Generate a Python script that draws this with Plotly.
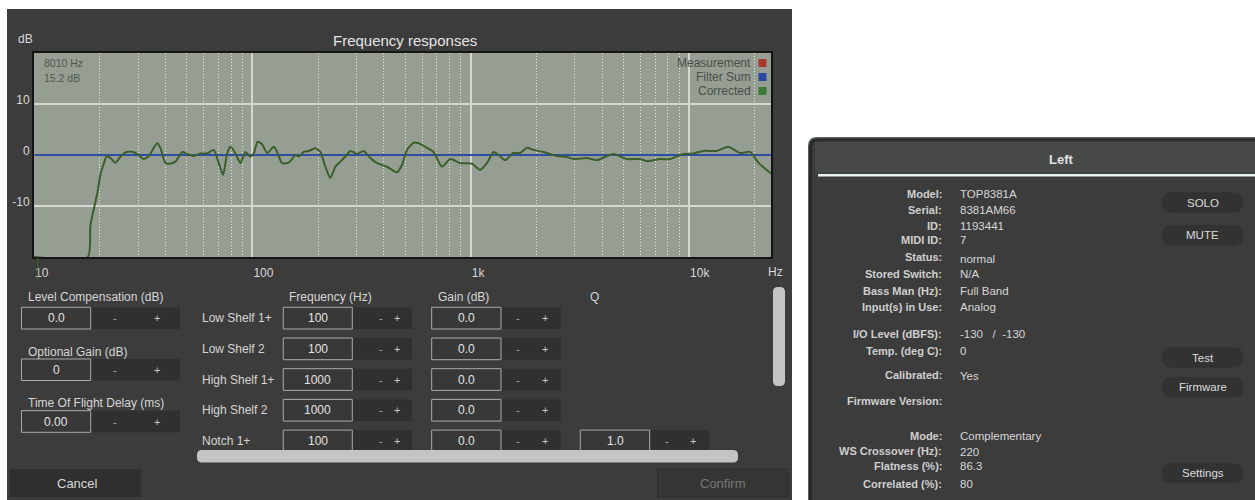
import plotly.graph_objects as go

# ---------------- data ----------------
freq_hz = [10, 17.6, 18.1, 18.9, 19.5, 20.2, 20.9, 21.5, 22.4, 23.6, 24.9, 26.5, 28.5, 30.1, 31.7, 33.4,
           36.6, 37.9, 40.0, 42.9, 44.4, 47.7, 50.2, 53.9, 57.8, 62.0, 66.5, 70.1, 73.4, 76.6, 79.3, 83.6,
           88.1, 92.9, 97.9, 101.4, 105.7, 110.8, 116.8, 125.2, 129.7, 136.8, 146.6, 152.0, 157.4, 162.9,
           171.7, 181.0, 194.2, 204.7, 215.8, 227.5, 239.9, 252.8, 266.5, 280.9, 301.5, 323.2, 346.7, 372.1,
           413.4, 459.5, 484.4, 510.5, 547.2, 576.9, 619.1, 675.5, 738.3, 805.9, 895.4, 1013, 1105, 1186,
           1272, 1365, 1439, 1570, 1685, 1808, 1939, 2154, 2481, 2757, 2954, 3402, 3781, 4504, 5187, 5968,
           6404, 7369, 8185, 9418, 10465, 11628, 13394, 15134, 17115, 19021, 20764, 23066, 23730]
corrected_db = [-20, -20, -13.9, -10.0, -7.4, -3.5, -1.6, -0.2, -0.6, -1.5, -0.3, 0.6, 0.6, 0.0, -0.8, -0.3,
                2.3, 1.4, -1.6, -1.6, -1.3, 0.6, 0.2, -0.2, 0.3, 0.3, 1.0, -1.6, -3.9, 0.3, 1.6, 0.3,
                -1.6, 0.6, -0.3, 0.3, 2.6, 2.1, 0.4, 1.6, 0.6, -1.6, -1.5, -0.8, 0.0, -0.3,
                0.6, 0.8, 1.3, 0.6, -2.3, -4.5, -2.3, -1.3, -0.3, 0.8, 0.2, 0.8, -0.6, -1.6,
                -2.3, -3.4, -1.9, 1.0, 2.4, 2.3, 1.6, 0.6, -2.3, -0.8, -1.6, -1.7, -2.9, -1.6,
                0.6, -0.3, -1.0, 0.4, 0.4, 1.4, 1.0, 0.6, -0.2, -0.4, -0.8, -0.6, -1.0, 0.2, -0.8, -0.8,
                -1.2, -0.8, -0.8, 0.2, 0.3, 0.8, 0.8, 1.6, 0.4, 0.6, -1.5, -3.2, -3.6]
filter_sum_hz = [10, 23730]
filter_sum_db = [0, 0]

x_tick_vals = [10, 100, 1000, 10000]
x_tick_text = ["10", "100", "1k", "10k"]
y_tick_vals = [-10, 0, 10]
y_tick_text = ["-10", "0", "10"]

legend_names = ["Measurement", "Filter Sum", "Corrected"]
legend_colors = ["#a8392c", "#2a4a9e", "#3a7c37"]
cursor_text = ["8010 Hz", "15.2 dB"]

left_fields = [("Level Compensation (dB)", "0.0"), ("Optional Gain (dB)", "0"),
               ("Time Of Flight Delay (ms)", "0.00")]
filter_rows = ["Low Shelf 1+", "Low Shelf 2", "High Shelf 1+", "High Shelf 2", "Notch 1+"]
filter_freq = ["100", "100", "1000", "1000", "100"]
filter_gain = ["0.0", "0.0", "0.0", "0.0", "0.0"]
filter_q = [None, None, None, None, "1.0"]

info_labels = ["Model:", "Serial:", "ID:", "MIDI ID:", "Status:", "Stored Switch:", "Bass Man (Hz):",
               "Input(s) in Use:", "I/O Level (dBFS):", "Temp. (deg C):", "Calibrated:", "Firmware Version:",
               "Mode:", "WS Crossover (Hz):", "Flatness (%):", "Correlated (%):"]
info_values = ["TOP8381A", "8381AM66", "1193441", "7", "normal", "N/A", "Full Band", "Analog",
               "-130   /  -130", "0", "Yes", "", "Complementary", "220", "86.3", "80"]
info_y = [194, 209.5, 226, 239.5, 257, 274, 290.5, 306.5, 334, 350.5, 374.5, 400.5, 435.5, 450.5, 466, 483.5]
side_buttons = ["SOLO", "MUTE", "Test", "Firmware", "Settings"]
side_button_y = [(192.3, 212.7), (225, 245.7), (347.3, 367.7), (377.3, 397.3), (463.3, 483.3)]

# ---------------- helpers ----------------
W, H = 1255, 500
FONT = "Liberation Sans, Arial, Helvetica, sans-serif"
shapes = []
annots = []


def px(x):
    return x / W


def py(y):
    return 1 - y / H


def rect(x0, y0, x1, y1, fill, line=None, lw=0, layer="below"):
    shapes.append(dict(type="rect", xref="paper", yref="paper", x0=px(x0), x1=px(x1), y0=py(y1), y1=py(y0),
                       fillcolor=fill, line=dict(color=line or fill, width=lw), layer=layer))


def rrect(x0, y0, x1, y1, r, fill, layer="below", corners=(1, 1, 1, 1)):
    tl, tr, br, bl = [r if c else 0 for c in corners]
    P = lambda x, y: f"{px(x):.6f},{py(y):.6f}"
    d = (f"M {P(x0 + tl, y0)} L {P(x1 - tr, y0)} Q {P(x1, y0)} {P(x1, y0 + tr)} "
         f"L {P(x1, y1 - br)} Q {P(x1, y1)} {P(x1 - br, y1)} L {P(x0 + bl, y1)} "
         f"Q {P(x0, y1)} {P(x0, y1 - bl)} L {P(x0, y0 + tl)} Q {P(x0, y0)} {P(x0 + tl, y0)} Z")
    shapes.append(dict(type="path", xref="paper", yref="paper", path=d, fillcolor=fill,
                       line=dict(width=0, color=fill), layer=layer))


def text(x, y, s, size=12, color="#dcdcdc", anchor="left", bold=False):
    if bold:
        s = f"<b>{s}</b>"
    annots.append(dict(x=px(x), y=py(y), xref="paper", yref="paper", text=s, showarrow=False,
                       xanchor=anchor, yanchor="middle", font=dict(family=FONT, size=size, color=color)))


# ---------------- panels ----------------
rect(7, 9, 792, 500, "#3c3c3c")
rect(34, 53, 771, 257, "#969e94")

# title and axis unit labels
text(405, 41, "Frequency responses", 15, "#e4e4e4", "center")
text(25, 39, "dB", 12, "#d8d8d8", "center")
text(775, 272, "Hz", 12, "#d8d8d8", "center")

# small green tick artefact under the 10 Hz label
shapes.append(dict(type="line", xref="paper", yref="paper", x0=px(37.8), x1=px(37.8), y0=py(280), y1=py(258),
                   line=dict(color="#3b6a2b", width=1), layer="above"))

# cursor readout
text(42, 63, cursor_text[0], 10.5, "#51574f")
text(42, 78, cursor_text[1], 10.5, "#51574f")

# legend
for i, (nm, col) in enumerate(zip(legend_names, legend_colors)):
    yy = 63 + 14 * i
    text(753, yy, nm, 12, "#4a4e48", "right")
    rect(758.5, yy - 4, 766.5, yy + 4, col, layer="above")

# left controls
BOX_LINE = "#a9a9a9"
BOX_FILL = "#383838"
STRIP = "#303030"
left_rows = [(296.7, 307.3, 329), (351.7, 359, 380.5), (402.7, 410.7, 432.3)]
for (lab, val), (ly, b0, b1) in zip(left_fields, left_rows):
    text(26, ly, lab, 12, "#d6d6d6")
    rect(90.7, b0, 180, b1, STRIP)
    rect(21.5, b0, 90.7, b1, BOX_FILL, BOX_LINE, 1)
    text(56, (b0 + b1) / 2, val, 12, "#e2e2e2", "center")
    text(115, (b0 + b1) / 2, "-", 11, "#a8a8a8", "center")
    text(156.7, (b0 + b1) / 2, "+", 11, "#c8c8c8", "center")

# filter table
text(287, 296.7, "Frequency (Hz)", 12, "#d6d6d6")
text(436, 296.7, "Gain (dB)", 12, "#d6d6d6")
text(588, 296.7, "Q", 12, "#d6d6d6")
for i, name in enumerate(filter_rows):
    b0 = 307.3 + 30.7 * i
    b1 = min(b0 + 21.7, 452)
    cy = b0 + 10.8
    text(200, cy, name, 12, "#d6d6d6")
    groups = [(283.3, 352.3, 412.3, 380.5, 396.7, filter_freq[i]),
              (431.7, 501, 561, 518.3, 545, filter_gain[i]),
              (580.3, 649.7, 709, 666.7, 693.3, filter_q[i])]
    for bx0, bx1, sx1, mx, pxx, val in groups:
        if val is None:
            continue
        rect(bx1, b0, sx1, b1, STRIP)
        rect(bx0, b0, bx1, b1, BOX_FILL, BOX_LINE, 1)
        text((bx0 + bx1) / 2, cy, val, 12, "#e2e2e2", "center")
        text(mx, cy, "-", 11, "#a8a8a8", "center")
        text(pxx, cy, "+", 11, "#c8c8c8", "center")

# scrollbars
rrect(197, 450, 738, 462.5, 5, "#c4c4c4")
rrect(773, 287, 785, 386, 5, "#c4c4c4")

# bottom buttons
rect(10, 469, 141, 497, "#2f2f2f")
text(77, 483, "Cancel", 13, "#d8d8d8", "center")
rect(657.5, 469, 788, 497, "#353535", "#2c2c2c", 1)
text(723, 483, "Confirm", 13, "#777777", "center")

# ---------------- right device panel ----------------
rrect(808, 137, 1255, 500, 9, "#5b5f60", corners=(1, 0, 0, 0))
rrect(809, 138.5, 1255, 500, 8, "#262a2b", corners=(1, 0, 0, 0))
rrect(812, 141, 1255, 500, 6, "#3c3c3c", corners=(1, 0, 0, 0))
rect(815, 142, 1255, 172.5, "#474948")
rect(818, 174, 1255, 176.5, "#e8f4f4")
text(1061, 159.5, "Left", 13, "#e0e0e0", "center", bold=True)

for lab, val, yy in zip(info_labels, info_values, info_y):
    text(943.5, yy, lab, 11, "#cfcfcf", "right", bold=True)
    if val:
        text(957.5, yy + (1.5 if lab in ("Status:", "Calibrated:", "WS Crossover (Hz):") else 0), val, 11.5, "#d6d6d6")

for name, (b0, b1) in zip(side_buttons, side_button_y):
    rrect(1161.7, b0, 1243.3, b1, (b1 - b0) / 2, "#323232")
    text(1202.5, (b0 + b1) / 2, name, 11.5, "#dcdcdc", "center")

# ---------------- traces ----------------
fig = go.Figure()
fig.add_trace(go.Scatter(x=filter_sum_hz, y=filter_sum_db, mode="lines", name="Filter Sum",
                         line=dict(color="#2c4ea3", width=2), showlegend=False, hoverinfo="skip"))
fig.add_trace(go.Scatter(x=freq_hz, y=corrected_db, mode="lines", name="Corrected",
                         line=dict(color="#3b5e2b", width=2, shape="spline", smoothing=0.6),
                         showlegend=False))

GRID = "#d3d8d0"
fig.update_layout(
    width=W, height=H, autosize=False,
    margin=dict(l=0, r=0, t=0, b=0),
    paper_bgcolor="white", plot_bgcolor="rgba(0,0,0,0)",
    showlegend=False,
    shapes=shapes, annotations=annots,
    font=dict(family=FONT),
    xaxis=dict(type="log", domain=[px(34), px(771)], range=[0.9995, 4.3753],
               tickvals=x_tick_vals, ticktext=x_tick_text, ticks="",
               ticklabelposition="outside right", ticklabelstandoff=4,
               tickfont=dict(size=12, color="#d8d8d8", family=FONT),
               showgrid=True, gridcolor=GRID, gridwidth=1.5, zeroline=False,
               minor=dict(dtick="D1", showgrid=True, gridcolor="#e6eae4", griddash="1px,2px", gridwidth=1),
               showline=True, linecolor="#141414", linewidth=2, mirror=True),
    yaxis=dict(domain=[py(257), py(53)], range=[-20, 20],
               tickvals=y_tick_vals, ticktext=y_tick_text, ticks="",
               ticklabelshift=-4, ticklabelstandoff=0,
               tickfont=dict(size=12, color="#d8d8d8", family=FONT),
               showgrid=True, gridcolor=GRID, gridwidth=1.5, zeroline=False,
               showline=True, linecolor="#141414", linewidth=2, mirror=True),
)

fig.write_html("out.html", config={"displayModeBar": False},
               post_script="document.body.style.margin='0px';document.body.style.overflow='hidden';")
